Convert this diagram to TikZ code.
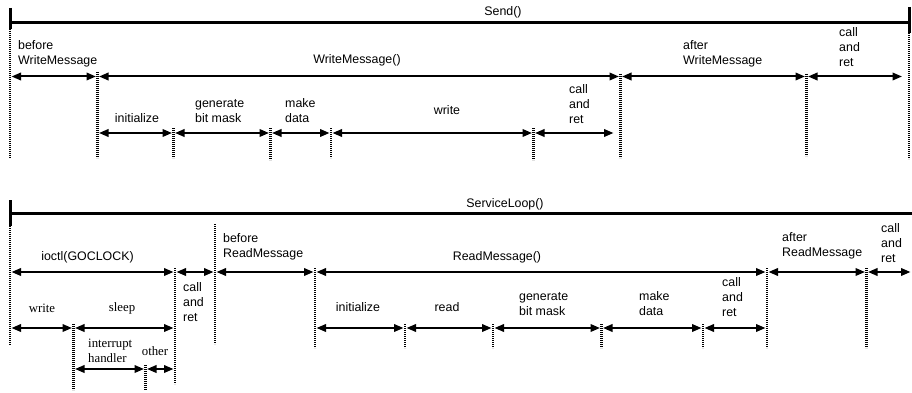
\documentclass[tikz,border=0pt]{standalone}
\usepackage{fontspec}
\setmainfont{Liberation Serif}
\setsansfont{Liberation Sans}
\usetikzlibrary{arrows.meta}
\tikzset{
  bar/.style={line width=3pt},
  solidtick/.style={line width=3pt},
  dottick/.style={line width=2.6pt, dash pattern=on 1.3pt off 0.7pt},
  span/.style={line width=2pt, {Triangle[length=9.5pt,width=7.5pt]}-{Triangle[length=9.5pt,width=7.5pt]}, shorten <=1.5pt, shorten >=1.5pt},
  lbl/.style={font=\sffamily\fontsize{12.4}{15}\selectfont, inner sep=0pt, align=left},
  slbl/.style={font=\rmfamily\fontsize{12.8}{15}\selectfont, inner sep=0pt, align=left},
}
\begin{document}
\begin{tikzpicture}[x=1pt,y=-1pt]
\useasboundingbox (0,0) rectangle (912,393);

% ---------------- Send() ----------------
\coordinate (sbL) at (10,22.5);
\coordinate (sbR) at (910,22.5);
\coordinate (sbLt) at (10,8);
\coordinate (sbLb) at (10,29);
\coordinate (sbRt) at (909,7);
\coordinate (sbRb) at (909,33);
\draw[bar] (sbL) -- (sbR);
\draw[solidtick] (sbLt) -- (sbLb);
\draw[solidtick] (sbRt) -- (sbRb);

% dotted ticks
\coordinate (t1a) at (10,29);    \coordinate (t1b) at (10,158);
\coordinate (t2a) at (97.5,72);  \coordinate (t2b) at (97.5,158);
\coordinate (t3a) at (620.5,74); \coordinate (t3b) at (620.5,158);
\coordinate (t4a) at (806.5,74); \coordinate (t4b) at (806.5,156);
\coordinate (t5a) at (909,33);   \coordinate (t5b) at (909,159);
\coordinate (t6a) at (173.5,128);\coordinate (t6b) at (173.5,158);
\coordinate (t7a) at (270.5,128);\coordinate (t7b) at (270.5,160);
\coordinate (t8a) at (331,128);  \coordinate (t8b) at (331,158);
\coordinate (t9a) at (533.5,128);\coordinate (t9b) at (533.5,160);
\foreach \t in {1,...,9} \draw[dottick] (t\t a) -- (t\t b);

% row 1
\coordinate (p0) at (10,76.5);
\coordinate (p1) at (97.5,76.5);
\coordinate (p2) at (620.5,76.5);
\coordinate (p3) at (806.5,76.5);
\coordinate (p4) at (903.5,76.5);
\draw[span] (p0) -- (p1);
\draw[span] (p1) -- (p2);
\draw[span] (p2) -- (p3);
\draw[span] (p3) -- (p4);

% row 2
\coordinate (q0) at (97.5,133);
\coordinate (q1) at (173.5,133);
\coordinate (q2) at (270.5,133);
\coordinate (q3) at (331,133);
\coordinate (q4) at (533.5,133);
\coordinate (q5) at (615,133);
\draw[span] (q0) -- (q1);
\draw[span] (q1) -- (q2);
\draw[span] (q2) -- (q3);
\draw[span] (q3) -- (q4);
\draw[span] (q4) -- (q5);

% labels
\node[lbl] (send) at (503,12) {Send()};
\node[lbl, anchor=west] (bwm) at (18,54) {before\\WriteMessage};
\node[lbl] (wm) at (357,60) {WriteMessage()};
\node[lbl, anchor=west] (awm) at (683,54) {after\\WriteMessage};
\node[lbl, anchor=west] (cr1) at (839,47) {call\\and\\ret};
\node[lbl] (init1) at (137,118) {initialize};
\node[lbl, anchor=west] (gbm1) at (195,111) {generate\\bit mask};
\node[lbl, anchor=west] (md1) at (285,111) {make\\data};
\node[lbl] (wr1) at (447,110) {write};
\node[lbl, anchor=west] (cr2) at (569,104) {call\\and\\ret};

% ---------------- ServiceLoop() ----------------
\coordinate (lbL) at (10,213);
\coordinate (lbR) at (912,213);
\coordinate (lbLt) at (10,200);
\coordinate (lbLb) at (10,226);
\draw[bar] (lbL) -- (lbR);
\draw[solidtick] (lbLt) -- (lbLb);

\coordinate (u1a) at (10,226);    \coordinate (u1b) at (10,345);
\coordinate (u2a) at (175,268);   \coordinate (u2b) at (175,384);
\coordinate (u3a) at (215,224);   \coordinate (u3b) at (215,344);
\coordinate (u4a) at (315,268);   \coordinate (u4b) at (315,348);
\coordinate (u5a) at (767,268);   \coordinate (u5b) at (767,348);
\coordinate (u6a) at (866.5,268); \coordinate (u6b) at (866.5,348);
\coordinate (u7a) at (405,324);   \coordinate (u7b) at (405,348);
\coordinate (u8a) at (493,324);   \coordinate (u8b) at (493,348);
\coordinate (u9a) at (601.5,324); \coordinate (u9b) at (601.5,348);
\coordinate (u10a) at (703,324);  \coordinate (u10b) at (703,348);
\coordinate (u11a) at (73.5,324); \coordinate (u11b) at (73.5,390);
\coordinate (u12a) at (145.5,365);\coordinate (u12b) at (145.5,390);
\foreach \t in {1,...,12} \draw[dottick] (u\t a) -- (u\t b);

% row 1
\coordinate (r0) at (10,272);
\coordinate (r1) at (175,272);
\coordinate (r2) at (215,272);
\coordinate (r3) at (315,272);
\coordinate (r4) at (767,272);
\coordinate (r5) at (866.5,272);
\coordinate (r6) at (912,272);
\draw[span] (r0) -- (r1);
\draw[span] (r1) -- (r2);
\draw[span] (r2) -- (r3);
\draw[span] (r3) -- (r4);
\draw[span] (r4) -- (r5);
\draw[span] (r5) -- (r6);

% row 2
\coordinate (s0) at (10,328);
\coordinate (s1) at (73.5,328);
\coordinate (s2) at (175,328);
\coordinate (s3) at (315,328);
\coordinate (s4) at (405,328);
\coordinate (s5) at (493,328);
\coordinate (s6) at (601.5,328);
\coordinate (s7) at (703,328);
\coordinate (s8) at (767,328);
\draw[span] (s0) -- (s1);
\draw[span] (s1) -- (s2);
\draw[span] (s3) -- (s4);
\draw[span] (s4) -- (s5);
\draw[span] (s5) -- (s6);
\draw[span] (s6) -- (s7);
\draw[span] (s7) -- (s8);

% row 3
\coordinate (v0) at (73.5,369);
\coordinate (v1) at (145.5,369);
\coordinate (v2) at (175,369);
\draw[span] (v0) -- (v1);
\draw[span] (v1) -- (v2);

% labels
\node[lbl] (sl) at (505,204) {ServiceLoop()};
\node[lbl] (ioctl) at (87.5,257) {ioctl(GOCLOCK)};
\node[lbl, anchor=west] (cr3) at (183,302) {call\\and\\ret};
\node[lbl, anchor=west] (brm) at (223,247) {before\\ReadMessage};
\node[lbl] (rm) at (497,257) {ReadMessage()};
\node[lbl, anchor=west] (arm) at (782,246) {after\\ReadMessage};
\node[lbl, anchor=west] (cr4) at (881,243) {call\\and\\ret};
\node[lbl] (init2) at (358,307) {initialize};
\node[lbl] (rd) at (447,307) {read};
\node[lbl, anchor=west] (gbm2) at (519,304) {generate\\bit mask};
\node[lbl, anchor=west] (md2) at (639,304) {make\\data};
\node[lbl, anchor=west] (cr5) at (722,297) {call\\and\\ret};
\node[slbl] (wr2) at (42,308) {write};
\node[slbl] (slp) at (122,308) {sleep};
\node[slbl, anchor=west] (ih) at (88,351) {interrupt\\handler};
\node[slbl] (oth) at (155,351) {other};
\end{tikzpicture}
\end{document}
